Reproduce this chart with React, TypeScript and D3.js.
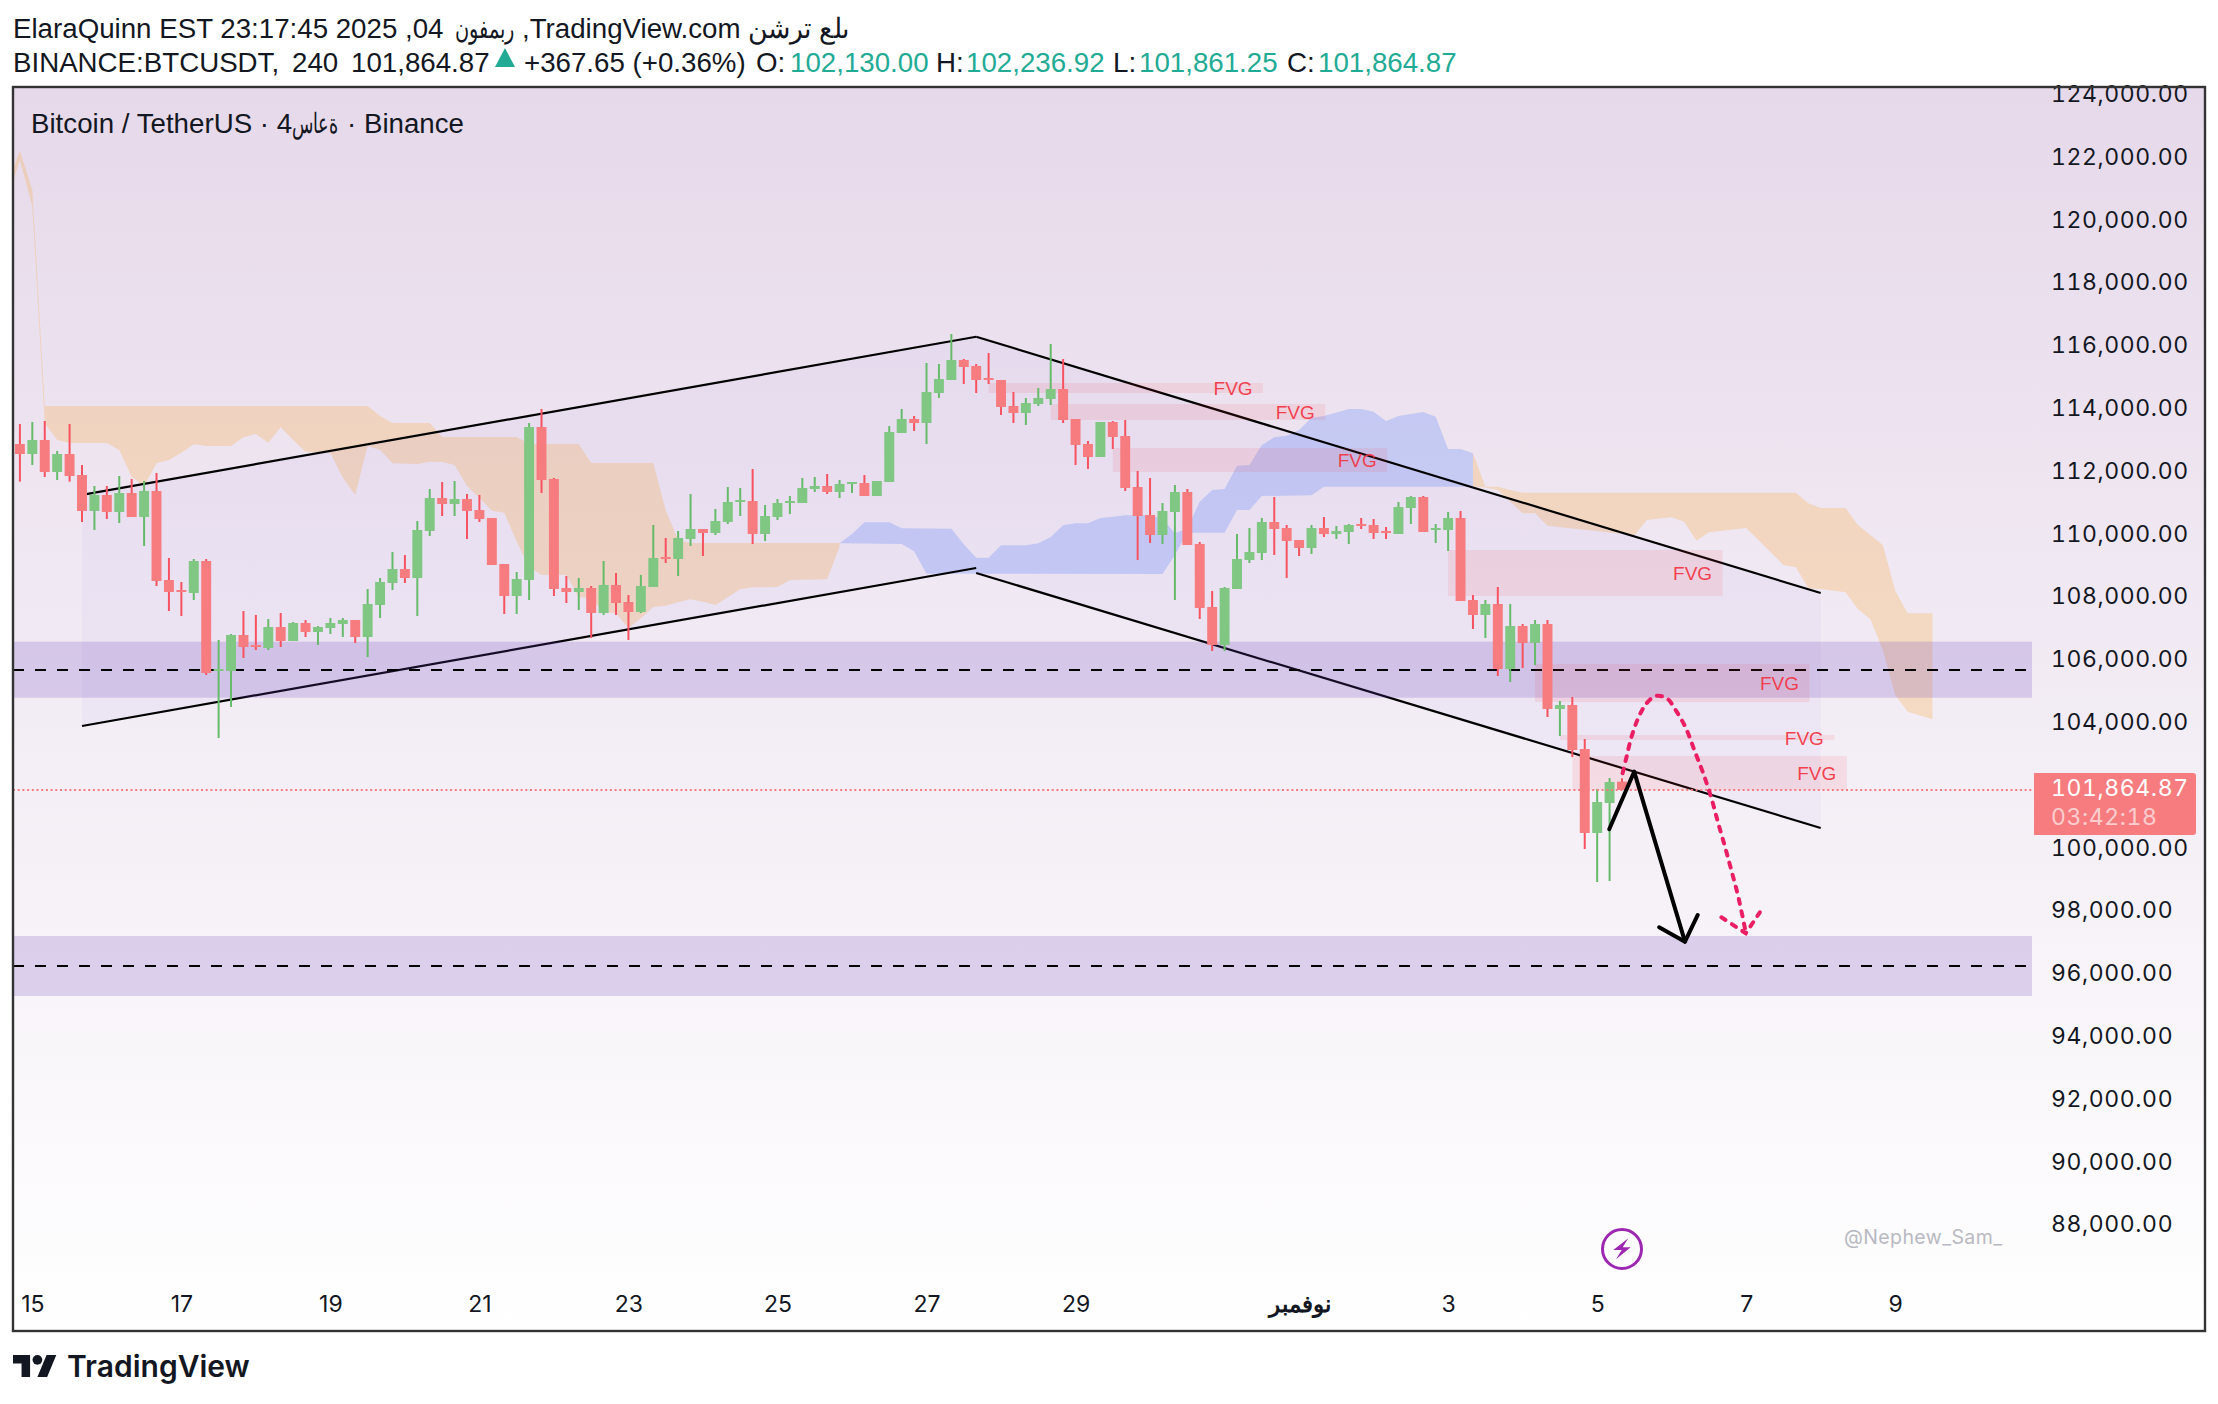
import React, { useEffect, useRef } from 'react';
import * as d3 from 'd3';

// BTCUSDT 4h candles
const opens = [112885,112566,113012,111993,112566,111897,110751,111260,110719,111324,110559,111388,108553,108234,108139,109158,105655,105655,106801,106483,106387,107056,106610,107183,106897,107024,107152,107279,106737,107757,108457,108903,108617,110114,111165,110974,111133,110782,110528,109062,108043,108553,113426,111770,108298,108171,108298,107502,108394,107852,107534,108330,109285,109222,109859,110177,110050,110400,111037,111069,110018,110559,111005,111005,111451,111547,111356,111611,111642,111228,111674,113235,113681,113553,114509,114923,115560,115369,114987,114923,114095,113872,114159,114318,114636,113681,112884,112470,113585,113139,111515,110623,109986,110719,111356,109700,107693,106483,108266,109190,109413,110400,110209,109827,109572,110209,110018,110082,110337,110305,110114,110018,110846,111196,110145,110145,110528,107916,107438,107788,105718,107088,106546,107152,104444,104571,103170,100495,101450,102130];
const highs = [113522,113585,113617,112662,113522,112216,111547,111547,111865,111770,111706,111961,109254,108489,109222,109222,106642,106833,107565,107438,107311,107502,107215,107279,107088,107343,107343,107279,108266,108617,109445,109349,110432,111451,111674,111706,111292,111260,110528,109062,108808,113553,114000,111802,108680,108617,108362,109158,108776,108075,108712,110305,109891,110114,111292,110177,110814,111515,111483,112088,110942,111133,111228,111802,111833,111929,111738,111674,111897,111706,113458,114000,113776,115464,115433,116388,115592,115433,115783,114923,114541,114350,114668,116070,115592,113681,112980,113585,113617,113649,112024,111802,111005,111579,111451,109763,108203,108330,110018,110209,110528,111196,110305,109827,110305,110560,110273,110337,110528,110496,110241,111037,111228,111228,110337,110719,110750,108075,107916,108330,107789,107152,107279,107279,104699,104826,103489,101896,102246,102236.92];
const lows = [111685,112216,111833,111738,111685,110400,110145,110496,110368,110559,109636,108362,107565,107406,107916,105527,103520,104508,106069,106323,106323,106419,106610,106737,106483,106833,106737,106546,106100,107343,108234,108457,107406,109954,110591,110591,109859,110400,109031,107470,107470,107916,111324,108043,107820,107597,106706,107438,107438,106642,107502,108330,109094,108680,109636,109317,109986,110336,110591,109700,109795,110464,110655,111005,111356,111292,111165,111324,111228,111228,111674,113235,113299,112885,114350,114923,114796,114509,114796,113808,113553,113490,114095,114127,113553,112216,112088,112470,112725,111388,109190,109731,109700,107916,109668,107311,106291,106291,108266,109094,109190,109349,108617,109317,109381,109923,109859,109700,110177,109859,109859,110018,110337,110082,109731,109477,107884,106992,106705,105495,105304,105750,105846,104189,103584,102915,99985,98934,98966,101861.25];
const closes = [112566,113012,111993,112566,111865,110751,111260,110719,111324,110559,111388,108521,108171,108171,109158,105591,105718,106801,106419,106419,107056,106610,107183,106897,107056,107183,107279,106737,107788,108489,108903,108617,110145,111165,110974,111133,110751,110496,109031,108043,108585,113426,111738,108266,108171,108298,107502,108394,107820,107534,108362,109254,109222,109891,110177,110050,110432,111037,111101,110018,110591,111005,111069,111483,111547,111356,111611,111674,111228,111706,113267,113681,113553,114541,114955,115560,115337,114923,114923,114063,113872,114190,114350,114636,113649,112853,112470,113585,113108,111483,110592,109986,110750,111356,109668,107661,106483,108298,109222,109445,110400,110177,109795,109572,110209,110018,110114,110305,110273,110050,110050,110878,111196,110082,110209,110528,107884,107438,107788,105718,107088,106546,107152,104444,104571,103138,100495,101482,102119,101864.87];

const lastPrice = 101864.87;

// Ichimoku cloud edges as [bar index, price]
const kumoOrangeTop = [[-0.5,121700],[0,122226],[1,120975],[2,114095],[28,114095],[29,113776],[30,113553],[33,113553],[34,113108],[40,113108],[41,112885],[45,112885],[46,112280],[51,112280],[52,110782],[53,109827],[54,109731],[66,109731]];
const kumoOrangeBottom = [[-0.5,121300],[0,121930],[1,120465],[2,113543],[3,113012],[4,112916],[7,112916],[8,112693],[9,111844],[10,111547],[11,112269],[12,112375],[13,112609],[14,112874],[15,112821],[17,112821],[18,113097],[19,113203],[20,112927],[21,113415],[22,113012],[23,112640],[25,112587],[26,111812],[27,111260],[28,112821],[29,112693],[30,112269],[32,112248],[33,112322],[34,112311],[35,112216],[36,111547],[37,111165],[38,110761],[39,110697],[40,109774],[41,108978],[42,108712],[44,108712],[45,108001],[46,107969],[47,107523],[48,107491],[49,107013],[50,107332],[51,107693],[52,107735],[53,107842],[54,107937],[55,107863],[56,107757],[57,108001],[58,108255],[59,108319],[61,108330],[62,108553],[65,108574],[66,109615]];
const kumoBlueTop = [[66,109721],[67,110018],[68,110390],[70,110390],[71,110199],[75,110188],[76,109689],[77,109264],[78,109264],[79,109657],[81,109657],[82,109721],[83,109922],[84,110294],[85,110358],[86,110358],[87,110528],[88,110570],[89,110613],[91,110613],[92,110507],[93,110039],[94,110199],[95,111048],[96,111420],[97,111451],[98,112195],[99,112216],[100,112853],[101,113097],[102,113150],[103,113331],[104,113724],[105,113777],[107,113999],[108,113999],[109,113914],[110,113617],[111,113777],[113,113904],[114,113755],[115,112725],[116,112725],[117,112587]];
const kumoBlueBottom = [[66,109721],[71,109700],[72,109466],[73,108754],[92,108744],[93,109349],[94,110061],[97,110061],[98,110783],[99,110783],[100,111228],[104,111250],[105,111526],[117,111526]];
const kumoOrange2Top = [[117,112587],[118,111526],[119,111526],[120,111420],[121,111335],[143,111335],[144,110995],[145,110846],[147,110846],[148,110305],[149,109986],[150,109668],[151,108213],[152,107490],[154,107490]];
const kumoOrange2Bottom = [[117,111526],[118,111500],[119,111419],[120,111048],[121,110676],[122,110676],[123,110283],[130,109976],[131,110464],[133,110549],[134,110411],[135,109806],[136,110071],[139,110209],[142,109031],[143,108956],[144,108288],[145,108267],[147,108160],[148,107620],[149,107302],[150,106324],[151,104890],[152,104358],[154,104117]];

// channels: start/end of the two rails, as [bar index, price]
const risingUpper = [[5,111263],[77,116300]];
const risingLower = [[5,103903],[77,108936]];
const fallingUpper = [[77,116300],[145,108139]];
const fallingLower = [[77,108776],[145,100655]];

// supply/demand bands [top, mid, bottom]
const bands = [[106588,105687,104804],[97215,96259,95304]];

// fair value gaps: first bar, top, bottom
const fvgStart = [78,83,88,115,122,124,125];
const fvgTop = [114828,114159,112758,109509,105878,103617,102948];
const fvgBottom = [114509,113650,111993,108044,104668,103457,101865];
const fvgBars = 22.1;

const blackArrow = [[127.97,100613],[129.98,102448],[134.07,97033]];
const blackHead = [[131.99,97492],[134.07,97033],[135.1,97884]];
const pinkPath = [[129.05,102397],[129.37,102926],[129.77,103563],[130.3,104148],[130.98,104626],[131.73,104859],[132.6,104786],[133.4,104359],[134.15,103830],[134.87,103085],[135.54,102397],[136.2,101601],[136.75,100805],[137.29,100060],[137.8,99317],[138.36,98467],[138.9,97460]];
const pinkHead = [[137,97811],[138.97,97301],[140.1,97970]];

const priceTicks = [124000,122000,120000,118000,116000,114000,112000,110000,108000,106000,104000,100000,98000,96000,94000,92000,90000,88000];
const timeTickBars = [1,13,25,37,49,61,73,85,103,115,127,139,151];
const timeTickLabels = ['15','17','19','21','23','25','27','29','نوفمبر','3','5','7','9'];

const W = 2218;
const H = 1404;
const frame = { left: 13, top: 87, right: 2205, bottom: 1331 };
const paneRight = 2032;

const UP_BODY = '#81c784';
const UP_WICK = '#66bb6a';
const DOWN_BODY = '#f77c80';
const DOWN_WICK = '#f7525f';
const TEAL = '#22ab94';
const INK = '#131722';
const AXIS_FONT = 'Inter, sans-serif';
const HEAD_FONT = '"Liberation Sans", Arial, sans-serif';

const App: React.FC = () => {
    const svgRef = useRef<SVGSVGElement>(null);

    useEffect(() => {
        if (!svgRef.current) return;
        const svg = d3.select(svgRef.current);
        svg.selectAll('*').remove();

        const x = d3.scaleLinear().domain([0, 129]).range([19.9, 1622]);
        const y = d3.scaleLinear().domain([88000, 124000]).range([1225.3, 95]);
        const step = x(1) - x(0);

        const defs = svg.append('defs');
        const grad = defs.append('linearGradient').attr('id', 'bg').attr('x1', 0).attr('y1', 0).attr('x2', 0).attr('y2', 1);
        grad.append('stop').attr('offset', '0%').attr('stop-color', 'rgb(230,217,234)');
        grad.append('stop').attr('offset', '100%').attr('stop-color', 'rgb(255,255,255)');
        defs.append('clipPath').attr('id', 'pane').append('rect')
            .attr('x', frame.left).attr('y', frame.top)
            .attr('width', paneRight - frame.left).attr('height', frame.bottom - frame.top);

        svg.append('rect').attr('width', W).attr('height', H).attr('fill', '#fff');
        svg.append('rect')
            .attr('x', frame.left).attr('y', frame.top)
            .attr('width', frame.right - frame.left).attr('height', frame.bottom - frame.top)
            .attr('fill', 'url(#bg)');

        const line = d3.line<number[]>().x(d => x(d[0])).y(d => y(d[1]));
        const g = svg.append('g').attr('clip-path', 'url(#pane)');

        // Cloud
        const cloud = (top: number[][], bottom: number[][], fill: string) => {
            g.append('path')
                .attr('d', line([...top, ...[...bottom].reverse()]) + 'Z')
                .attr('fill', fill);
        };
        cloud(kumoOrangeTop, kumoOrangeBottom, 'rgba(255,152,0,0.2)');
        cloud(kumoBlueTop, kumoBlueBottom, 'rgba(41,98,255,0.2)');
        cloud(kumoOrange2Top, kumoOrange2Bottom, 'rgba(255,152,0,0.2)');

        // Channels
        [[risingUpper, risingLower], [fallingUpper, fallingLower]].forEach(([up, low]) => {
            g.append('path')
                .attr('d', line([...up, ...[...low].reverse()]) + 'Z')
                .attr('fill', 'rgba(90,70,230,0.035)');
            [up, low].forEach(rail => {
                g.append('path').attr('d', line(rail)).attr('fill', 'none')
                    .attr('stroke', '#000').attr('stroke-width', 2.2);
            });
        });

        // Bands with dashed midline
        bands.forEach(([top, mid, bottom]) => {
            g.append('rect')
                .attr('x', frame.left).attr('width', paneRight - frame.left)
                .attr('y', y(top)).attr('height', y(bottom) - y(top))
                .attr('fill', 'rgba(103,58,183,0.2)');
            g.append('line')
                .attr('x1', frame.left).attr('x2', 2026)
                .attr('y1', y(mid)).attr('y2', y(mid))
                .attr('stroke', '#000').attr('stroke-width', 2)
                .attr('stroke-dasharray', '11,11');
        });

        // Fair value gaps
        fvgStart.forEach((bar, i) => {
            const x0 = x(bar);
            const x1 = x(bar + fvgBars);
            const y0 = y(fvgTop[i]);
            const y1 = y(fvgBottom[i]);
            g.append('rect').attr('x', x0).attr('y', y0).attr('width', x1 - x0).attr('height', y1 - y0)
                .attr('fill', 'rgba(242,54,69,0.1)');
            g.append('text')
                .attr('x', x1 - 30).attr('y', (y0 + y1) / 2 + 7.5)
                .attr('text-anchor', 'middle')
                .attr('font-family', HEAD_FONT).attr('font-size', 19)
                .attr('fill', 'rgba(242,54,69,0.95)')
                .text('FVG');
        });

        // Candles
        const candles = g.append('g');
        opens.forEach((open, i) => {
            const close = closes[i];
            const up = close >= open;
            const cx = x(i);
            candles.append('line')
                .attr('x1', cx).attr('x2', cx)
                .attr('y1', y(highs[i])).attr('y2', y(lows[i]))
                .attr('stroke', up ? UP_WICK : DOWN_WICK).attr('stroke-width', 2);
            const top = y(Math.max(open, close));
            const bottom = y(Math.min(open, close));
            candles.append('rect')
                .attr('x', cx - step * 0.4).attr('width', step * 0.8)
                .attr('y', top).attr('height', Math.max(bottom - top, 2))
                .attr('fill', up ? UP_BODY : DOWN_BODY);
        });

        // Last price line
        g.append('line')
            .attr('x1', frame.left).attr('x2', paneRight)
            .attr('y1', y(lastPrice)).attr('y2', y(lastPrice))
            .attr('stroke', DOWN_BODY).attr('stroke-width', 2)
            .attr('stroke-dasharray', '2,2.7');

        // Hand drawn arrows
        [blackArrow, blackHead].forEach(pts => {
            g.append('path').attr('d', line(pts)).attr('fill', 'none')
                .attr('stroke', '#000').attr('stroke-width', 4)
                .attr('stroke-linecap', 'round').attr('stroke-linejoin', 'round');
        });
        const pinkLine = d3.line<number[]>().x(d => x(d[0])).y(d => y(d[1])).curve(d3.curveCatmullRom.alpha(0.5));
        [pinkPath, pinkHead].forEach((pts, i) => {
            g.append('path').attr('d', i === 0 ? pinkLine(pts) : line(pts)).attr('fill', 'none')
                .attr('stroke', '#e91e63').attr('stroke-width', 4)
                .attr('stroke-linecap', 'round').attr('stroke-dasharray', '5,7.5');
        });

        // Watermark and lightning badge
        svg.append('text').attr('x', 1844).attr('y', 1244)
            .attr('font-family', AXIS_FONT).attr('font-size', 19.5).attr('letter-spacing', 0.4)
            .attr('fill', '#b8b9c2').text('@Nephew_Sam_');
        const badge = svg.append('g').attr('transform', 'translate(1622,1249)');
        badge.append('circle').attr('r', 19.5).attr('fill', 'none').attr('stroke', '#9c27b0').attr('stroke-width', 3);
        badge.append('path').attr('d', 'M6.3-10.7L-8.7 1H-.3L-6 10.3L8.7-1.7H.7Z').attr('fill', '#9c27b0');

        // Price axis
        const priceLabels = svg.append('g')
            .attr('font-family', AXIS_FONT).attr('font-size', 23).attr('letter-spacing', 0.6).attr('fill', INK)
            .style('font-variant-numeric', 'tabular-nums');
        priceTicks.forEach(p => {
            priceLabels.append('text').attr('x', 2051).attr('y', y(p) + 7).text(d3.format(',.2f')(p));
        });

        // Last price tag
        const tagY = y(lastPrice);
        svg.append('path')
            .attr('d', `M2034 ${tagY - 17}H2193a3 3 0 0 1 3 3V${tagY + 42}a3 3 0 0 1 -3 3H2034Z`)
            .attr('fill', DOWN_BODY);
        const tagText = svg.append('g')
            .attr('font-family', AXIS_FONT).attr('font-size', 23).attr('letter-spacing', 0.6)
            .style('font-variant-numeric', 'tabular-nums');
        tagText.append('text').attr('x', 2051).attr('y', tagY + 6.3).attr('fill', '#fff')
            .text(d3.format(',.2f')(lastPrice));
        tagText.append('text').attr('x', 2051).attr('y', tagY + 35).attr('fill', 'rgba(255,255,255,0.65)')
            .text('03:42:18');

        // Time axis
        timeTickBars.forEach((bar, i) => {
            const isMonth = timeTickLabels[i] === 'نوفمبر';
            svg.append('text').attr('x', x(bar) + 0.5).attr('y', 1311.5)
                .attr('text-anchor', 'middle')
                .attr('font-family', AXIS_FONT).attr('font-size', 23)
                .attr('font-weight', isMonth ? 700 : 400)
                .attr('fill', INK).text(timeTickLabels[i]);
        });

        // Frame
        svg.append('rect')
            .attr('x', frame.left).attr('y', frame.top)
            .attr('width', frame.right - frame.left).attr('height', frame.bottom - frame.top)
            .attr('fill', 'none').attr('stroke', '#333').attr('stroke-width', 2.4);

        // Header lines; the Arabic in them is laid out left to right in the source
        const head = (tx: number, ty: number, str: string, fill = INK, fitTo = 0) => {
            const t = svg.append('text').attr('x', tx).attr('y', ty)
                .attr('font-family', HEAD_FONT).attr('font-size', 27.7).attr('fill', fill)
                .style('unicode-bidi', 'bidi-override').style('direction', 'ltr')
                .text(str);
            if (fitTo) t.attr('textLength', fitTo).attr('lengthAdjust', 'spacingAndGlyphs');
            return t;
        };

        head(13, 38, 'ElaraQuinn EST 23:17:45 2025 ,04');
        head(455, 38, 'نوفمبر', INK, 60);
        head(522, 38, ',TradingView.com');
        head(748, 38, 'نشرت على', INK, 102);
        head(13, 71.7, 'BINANCE:BTCUSDT,');
        head(292, 71.7, '240');
        head(351, 71.7, d3.format(',.2f')(lastPrice));
        svg.append('path').attr('d', 'M505 48L515 67H495Z').attr('fill', TEAL);
        head(524, 71.7, '+367.65 (+0.36%)');
        head(756, 71.7, 'O:');
        head(790, 71.7, d3.format(',.2f')(opens[129]), TEAL);
        head(936, 71.7, 'H:');
        head(966, 71.7, d3.format(',.2f')(highs[129]), TEAL);
        head(1113, 71.7, 'L:');
        head(1139, 71.7, d3.format(',.2f')(lows[129]), TEAL);
        head(1287, 71.7, 'C:');
        head(1318, 71.7, d3.format(',.2f')(closes[129]), TEAL);
        head(31, 133.3, 'Bitcoin / TetherUS · 4');
        head(291.5, 133.3, 'ساعة', INK, 47);
        head(347, 133.3, '· Binance');

        // Logo
        const logo = svg.append('g').attr('transform', 'translate(13,1350.1) scale(1.22)').attr('fill', '#131722');
        logo.append('path').attr('d', 'M14 22H7V11H0V4h14v18ZM28 22h-8l7.5-18h8L28 22Z');
        logo.append('circle').attr('cx', 20).attr('cy', 8).attr('r', 4);
        svg.append('text').attr('x', 67).attr('y', 1377)
            .attr('font-family', AXIS_FONT).attr('font-size', 30).attr('font-weight', 600)
            .attr('fill', '#131722').text('TradingView');
    }, []);

    return (
        <svg
            ref={svgRef}
            width={W}
            height={H}
            viewBox={`0 0 ${W} ${H}`}
            style={{ position: 'absolute', left: 0, top: 0, display: 'block' }}
        />
    );
};

export default App;
